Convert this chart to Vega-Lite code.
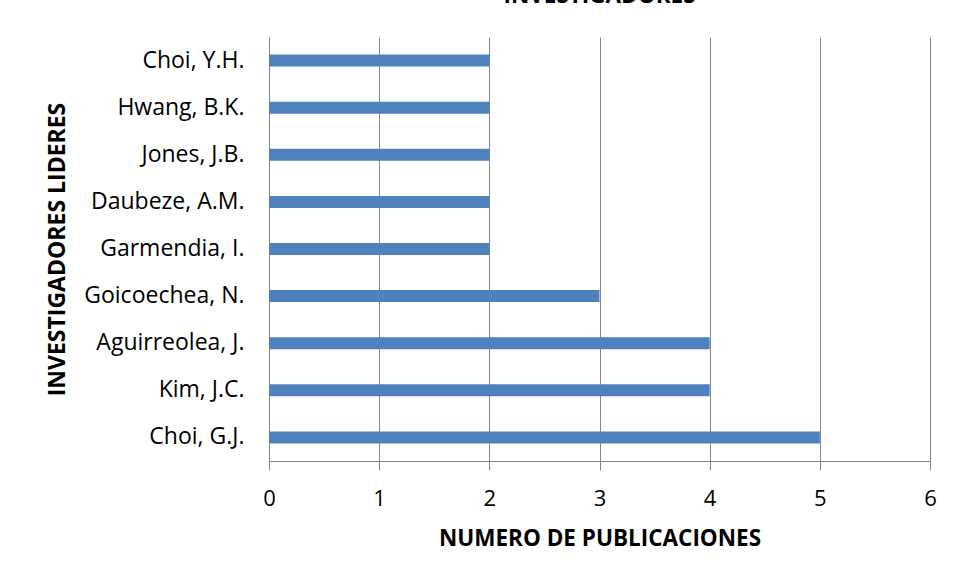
{
  "$schema": "https://vega.github.io/schema/vega-lite/v6.json",
  "autosize": {"type": "none"},
  "padding": {"left": 269, "top": 37, "right": 24, "bottom": 119},
  "width": 661,
  "height": 424,
  "background": "white",
  "title": {"text": "INVESTIGADORES", "fontSize": 22.5, "font": "Open Sans", "fontWeight": "bold", "color": "#000000", "offset": 30, "anchor": "middle"},
  "data": {"values": [
    {"investigador": "Choi, Y.H.", "publicaciones": 2},
    {"investigador": "Hwang, B.K.", "publicaciones": 2},
    {"investigador": "Jones, J.B.", "publicaciones": 2},
    {"investigador": "Daubeze, A.M.", "publicaciones": 2},
    {"investigador": "Garmendia, I.", "publicaciones": 2},
    {"investigador": "Goicoechea, N.", "publicaciones": 3},
    {"investigador": "Aguirreolea, J.", "publicaciones": 4},
    {"investigador": "Kim, J.C.", "publicaciones": 4},
    {"investigador": "Choi, G.J.", "publicaciones": 5}
  ]},
  "mark": {"type": "bar", "color": "#4F81BD"},
  "encoding": {
    "y": {"field": "investigador", "type": "nominal", "sort": null,
      "scale": {"paddingInner": 0.745, "paddingOuter": 0.3725},
      "axis": {"title": "INVESTIGADORES LIDERES", "titleFont": "Open Sans", "titleFontSize": 23, "titleFontWeight": "bold", "titleColor": "#000000", "titleX": -212, "titleY": 212, "titleBaseline": "middle", "titleAngle": -90,
        "labelFont": "Open Sans", "labelFontSize": 23, "labelColor": "#000000", "labelPadding": 25, "ticks": false, "domain": true, "domainColor": "#868686", "grid": false}},
    "x": {"field": "publicaciones", "type": "quantitative",
      "scale": {"domain": [0, 6], "nice": false},
      "axis": {"title": "NUMERO DE PUBLICACIONES", "titleFont": "Open Sans", "titleFontSize": 22.5, "titleFontWeight": "bold", "titleColor": "#000000", "titlePadding": 18,
        "values": [0, 1, 2, 3, 4, 5, 6], "format": "d", "labelFont": "Open Sans", "labelFontSize": 22, "labelColor": "#000000", "labelPadding": 18, "tickSize": 9, "tickColor": "#868686", "domainColor": "#868686", "grid": true, "gridColor": "#868686", "labelFlush": false}}
  },
  "config": {"view": {"stroke": null}}
}
